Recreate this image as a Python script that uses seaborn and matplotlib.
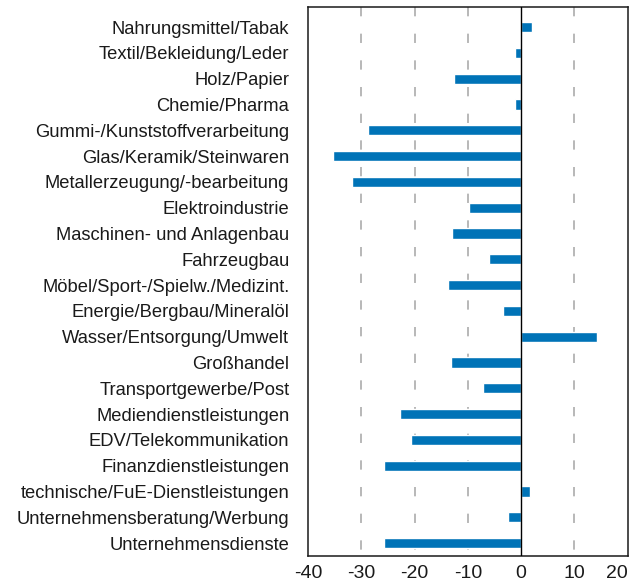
import matplotlib
matplotlib.use("Agg")
import matplotlib.pyplot as plt
import seaborn as sns
import pandas as pd

# Branchen und Werte (Saldo in Prozentpunkten)
branchen = [
    "Nahrungsmittel/Tabak",
    "Textil/Bekleidung/Leder",
    "Holz/Papier",
    "Chemie/Pharma",
    "Gummi-/Kunststoffverarbeitung",
    "Glas/Keramik/Steinwaren",
    "Metallerzeugung/-bearbeitung",
    "Elektroindustrie",
    "Maschinen- und Anlagenbau",
    "Fahrzeugbau",
    "Möbel/Sport-/Spielw./Medizint.",
    "Energie/Bergbau/Mineralöl",
    "Wasser/Entsorgung/Umwelt",
    "Großhandel",
    "Transportgewerbe/Post",
    "Mediendienstleistungen",
    "EDV/Telekommunikation",
    "Finanzdienstleistungen",
    "technische/FuE-Dienstleistungen",
    "Unternehmensberatung/Werbung",
    "Unternehmensdienste",
]
werte = [2.1, -1.2, -12.7, -1.2, -28.7, -35.4, -31.8, -9.8, -12.9, -6.1,
         -13.8, -3.4, 14.2, -13.2, -7.2, -22.8, -20.6, -25.8, 1.6, -2.5, -25.8]
x_ticks = [-40, -30, -20, -10, 0, 10, 20]
grid_x = [-30, -20, -10, 10]

df = pd.DataFrame({"branche": branchen, "wert": werte})

sns.set_style("white")
plt.rcParams['font.family'] = ['Liberation Sans', 'DejaVu Sans']
plt.rcParams['lines.scale_dashes'] = False

fig = plt.figure(figsize=(6.34, 5.85), dpi=100)
ax = fig.add_axes([0.486, 0.0496, 0.504, 0.938])

sns.barplot(data=df, x="wert", y="branche", orient="h", color="#0073b7",
            saturation=1, width=0.4, ax=ax, zorder=3)

for gx in grid_x:
    ax.axvline(gx, ymin=1, ymax=0, color="#b8b8b8", lw=1.4,
               dashes=(6.7, 12.5), zorder=1)
ax.axvline(0, color="black", lw=1.0, zorder=4)

ax.set_xlim(-40, 20)
ax.set_ylim(20.5, -0.77)
ax.set_xticks(x_ticks)
ax.set_xticklabels([str(t) for t in x_ticks])
ax.set_xlabel("")
ax.set_ylabel("")
ax.tick_params(axis="y", length=0, pad=13.5, labelsize=13.2, colors="#1a1a1a")
ax.tick_params(axis="x", length=0, pad=6.5, labelsize=14, colors="#1a1a1a")
# letzte Beschriftung bündig am rechten Rand
ax.get_xticklabels()[-1].set_horizontalalignment("right")
for s in ax.spines.values():
    s.set_visible(True)
    s.set_color("#1a1a1a")
    s.set_linewidth(1.1)

fig.savefig("out.png", dpi=100)
